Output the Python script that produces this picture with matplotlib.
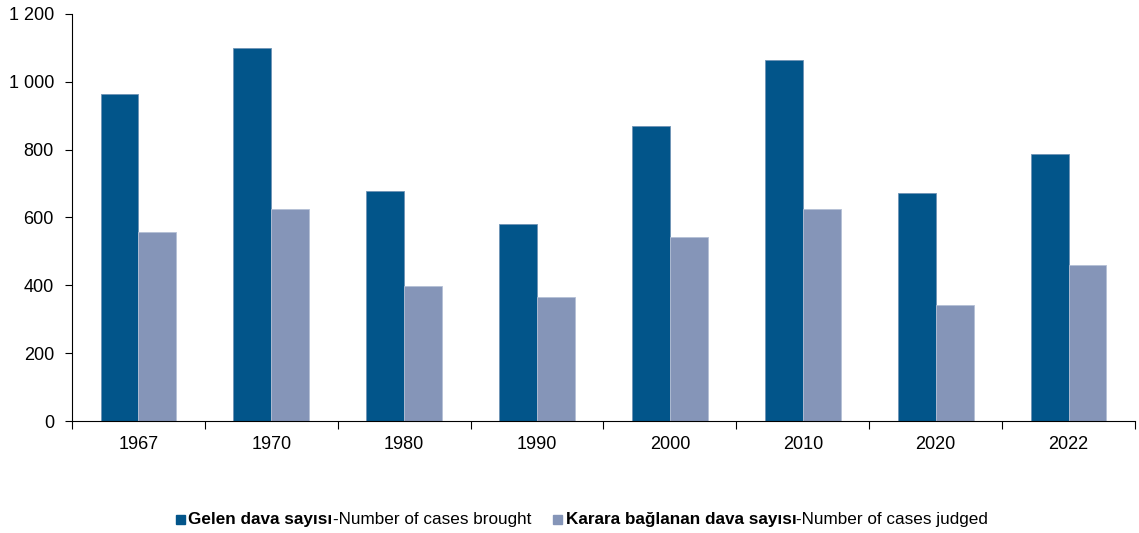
import matplotlib
matplotlib.use('Agg')
import matplotlib.pyplot as plt
import numpy as np
from matplotlib.offsetbox import AnchoredOffsetbox, DrawingArea, HPacker, TextArea
from matplotlib.patches import Rectangle
from matplotlib.ticker import FuncFormatter

plt.rcParams['font.family'] = ['Liberation Sans', 'DejaVu Sans']

years = ['1967', '1970', '1980', '1990', '2000', '2010', '2020', '2022']
brought = [964, 1100, 677, 581, 870, 1064, 672, 787]
judged = [557, 625, 398, 365, 542, 625, 342, 460]

DARK = '#02558a'
LIGHT = '#8595b8'

fig = plt.figure(figsize=(11.39, 5.33), dpi=100)
ax = fig.add_axes([0.0632, 0.21, 0.9333, 0.764])

x = np.arange(len(years))
w = 0.285
ax.bar(x - w / 2, brought, w, color=DARK, edgecolor='#6f93b5', linewidth=0.6)
ax.bar(x + w / 2, judged, w, color=LIGHT, edgecolor='#b4c0d6', linewidth=0.6)

ax.set_xlim(-0.5, len(years) - 0.5)
ax.set_ylim(0, 1200)
ax.set_yticks(range(0, 1201, 200))
ax.yaxis.set_major_formatter(FuncFormatter(lambda v, p: f'{int(v):,}'.replace(',', ' ')))

# category labels centred, tick marks on the boundaries
ax.set_xticks(np.arange(-0.5, len(years)), minor=False)
ax.set_xticklabels([])
ax.set_xticks(x, minor=True)
ax.set_xticklabels(years, minor=True)
ax.tick_params(axis='x', which='major', length=6, width=0.8, direction='out')
ax.tick_params(axis='x', which='minor', length=0, pad=11, labelsize=13)
ax.tick_params(axis='y', length=5, width=0.8, labelsize=13, pad=8)

for s in ['top', 'right']:
    ax.spines[s].set_visible(False)
for s in ['left', 'bottom']:
    ax.spines[s].set_linewidth(0.8)


def legend_entry(color, bold, rest):
    # square is about 9 px, then a 3 px gap before the text
    da = DrawingArea(9, 7, 0, 0)
    da.add_artist(Rectangle((0, 0.2), 6.5, 6.5, color=color))
    t1 = TextArea(bold, textprops=dict(fontsize=12.3, fontweight='bold'))
    t2 = TextArea(rest, textprops=dict(fontsize=12.3))
    return HPacker(children=[da, t1, t2], pad=0, sep=0, align='center')


box = HPacker(children=[
    legend_entry(DARK, 'Gelen dava sayısı', '-Number of cases brought'),
    legend_entry(LIGHT, 'Karara bağlanan dava sayısı', '-Number of cases judged'),
], pad=0, sep=16, align='center')
anchored = AnchoredOffsetbox(loc='center', child=box, frameon=False,
                             bbox_to_anchor=(0.511, 0.025), bbox_transform=fig.transFigure,
                             borderpad=0)
fig.add_artist(anchored)

fig.savefig('out.png', dpi=100)
